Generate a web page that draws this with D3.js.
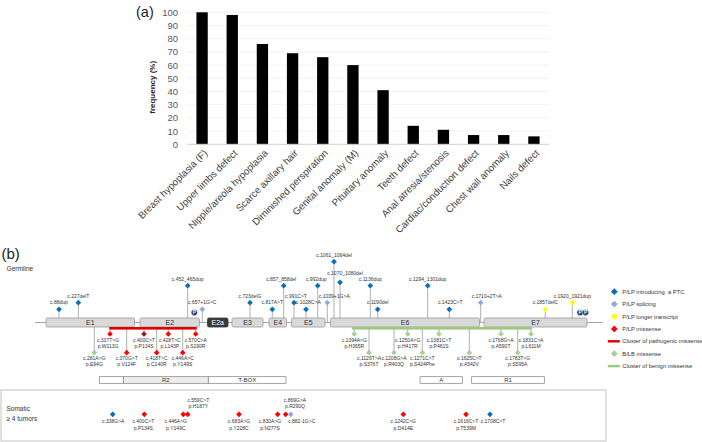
<!DOCTYPE html>
<html><head><meta charset="utf-8">
<script src="https://cdn.jsdelivr.net/npm/d3@7"></script>
<style>
body{margin:0;background:#fff}
svg{display:block}
text{font-family:"Liberation Sans",Arial,sans-serif}
</style>
</head><body>
<svg id="c" width="702" height="442"></svg>
<script>
// ---------- (a) phenotype frequencies ----------
const categories = ["Breast hypoplasia (F)", "Upper limbs defect", "Nipple/areola hypoplasia", "Scarce axillary hair",
  "Diminished perspiration", "Genital anomaly (M)", "Pituitary anomaly", "Teeth defect", "Anal atresia/stenosis",
  "Cardiac/conduction defect", "Chest wall anomaly", "Nails defect"];
const frequency = [100, 98, 76, 69, 66, 60, 41, 14, 11, 7, 7, 6];
const yTicks = [0, 10, 20, 30, 40, 50, 60, 70, 80, 90, 100];

// ---------- (b) TBX3 gene track (track units along the drawn gene) ----------
const exonNames = ["E1", "E2", "E2a", "E3", "E4", "E5", "E6", "E7"];
const exonStart = [11, 105, 172.5, 197, 234, 256.5, 295.5, 449];
const exonEnd   = [99.5, 164.5, 193, 228, 251.5, 290, 444.5, 552];

// germline variants drawn above the gene (height = stem level)
const aboveLabels = ["c.88dup", "c.227delT", "c.452_465dup", "c.657+1G>C", "c.723delG", "c.817A>T", "c.857_858del",
  "c.991C>T", "c.1028C>A", "c.992dup", "c.1039+1G>A", "c.1061_1064del", "c.1070_1080del", "c.1136dup", "c.1190del",
  "c.1294_1301dup", "c.1423C>T", "c.1710+2T>A", "c.1857delC", "c.1920_1921dup"];
const aboveTypes = ["ptc", "ptc", "ptc", "splice", "ptc", "ptc", "ptc", "ptc", "ptc", "ptc", "splice", "ptc", "ptc",
  "ptc", "ptc", "ptc", "ptc", "splice", "longer", "longer"];
const abovePos = [24, 43.3, 152.7, 167.3, 215, 237.3, 248.7, 259, 271, 282.7, 292.3, 299, 305, 335.3, 342.7, 392.7,
  414.3, 445.7, 510.3, 537.3];
const aboveLevel = [8.7, 15.3, 32.3, 8.7, 15.3, 8.7, 32.3, 15.3, 8.7, 32.3, 15.3, 56.3, 35.7, 32.3, 8.7, 32.3, 8.7,
  15.3, 8.7, 15.3];

// germline missense variants drawn below the gene
const belowCdna = ["c.337T>G", "c.400C>T", "c.428T>C", "c.570C>A", "c.281A>G", "c.370G>T", "c.418T>C", "c.446A>C",
  "c.1094A>G", "c.1250A>G", "c.1381C>T", "c.1768G>A", "c.1831C>A", "c.1126T>A", "c.1208G>A", "c.1271C>T",
  "c.1625C>T", "c.1783T>G"];
const belowProtein = ["p.W113G", "p.P134S", "p.L143P", "p.S190R", "p.E94G", "p.V124F", "p.C140R", "p.Y149S",
  "p.H365R", "p.H417R", "p.P461S", "p.A590T", "p.L611M", "p.S376T", "p.R403Q", "p.S424Phe", "p.A542V", "p.S595A"];
const belowTypes = ["missense", "missenseDark", "missense", "missense", "benign", "missense", "missense", "missense",
  "benign", "benign", "benign", "benign", "benign", "benign", "benign", "benign", "benign", "benign"];
const belowPos = [75, 109, 133.3, 160.7, 59.3, 91.7, 121.7, 147.7, 319.3, 372.7, 404, 466, 496, 334, 359, 387.3,
  434.3, 482.7];
const belowLevel = [7, 7, 7, 7, 25.7, 25.7, 25.7, 25.7, 7, 7, 7, 7, 7, 25.7, 25.7, 25.7, 25.7, 25.7];

// "P" markers on the gene
const pMarkerPos = [159.3, 545, 550.5];

// clusters of missense variants
const clusterNames = ["pathogenic", "benign"];
const clusterStart = [74.3, 317];
const clusterEnd = [161.7, 497];

// protein domains
const domainNames = ["", "R2", "T-BOX", "A", "R1"];
const domainStart = [64.3, 88.3, 173.3, 385, 436.7];
const domainEnd = [88.3, 173.3, 251, 427.3, 509.3];

// somatic variants (>= 4 tumors)
const somCdna = ["c.338G>A", "c.400C>T", "c.446A>G", "c.559C>T", "c.683A>G", "c.830A>G", "c.869G>A", "c.882-1G>C",
  "c.1242C>G", "c.1616C>T", "c.1708C>T"];
const somProtein = ["", "p.P134S", "p.Y149C", "p.H187Y", "p.Y228C", "p.N277S", "p.R290Q", "", "p.D414E", "p.T539M", ""];
const somTypes = ["ptc", "missense", "missense", "missense", "missense", "missense", "missense", "splice", "missense",
  "missense", "ptc"];
const somPos = [77.7, 109.3, 148.3, 152.7, 204, 242.7, 250.7, 255.7, 368.3, 431, 455];
const somLabelAbove = [false, false, false, true, false, false, true, false, false, false, false];

// legend
const legendLabels = ["P/LP introducing  a PTC", "P/LP splicing", "P/LP longer transcript", "P/LP missense",
  "Cluster of pathogenic missense", "B/LB missense", "Cluster of benign missense"];
const legendKinds = ["ptc", "splice", "longer", "missense", "redline", "benign", "greenline"];

// ---------- styles ----------
const color = {ptc: "#0070c0", splice: "#8eaadb", longer: "#ffff00", missense: "#ff0000", missenseDark: "#a3151b",
  benign: "#a9d18e", redline: "#e00000", greenline: "#9cc97f"};
const stemColor = "#a6a6a6";
const svg = d3.select("#c");

// ================= (a) =================
const bx = d3.scaleBand().domain(categories).range([187, 549]).paddingInner(0.625).paddingOuter(0.3125);
const by = d3.scaleLinear().domain([0, 100]).range([144.3, 12.3]);
const gA = svg.append("g");

gA.selectAll("line.grid").data(yTicks.filter(d => d > 0)).join("line")
  .attr("x1", 187).attr("x2", 549).attr("y1", d => by(d)).attr("y2", d => by(d))
  .attr("stroke", "#efefef").attr("stroke-width", 0.8);

const yAxis = d3.axisLeft(by).tickValues(yTicks).tickSize(0).tickPadding(9);
const yg = gA.append("g").attr("transform", "translate(187,0)").call(yAxis);
yg.select(".domain").remove();
yg.selectAll("text").attr("font-size", 9.5).attr("fill", "#595959")
  .attr("font-family", '"Liberation Sans",Arial,sans-serif');

gA.selectAll("rect.bar").data(categories).join("rect")
  .attr("x", d => bx(d)).attr("width", bx.bandwidth())
  .attr("y", (d, i) => by(frequency[i])).attr("height", (d, i) => by(0) - by(frequency[i]))
  .attr("fill", "#000");

gA.append("line").attr("x1", 187).attr("x2", 549).attr("y1", by(0)).attr("y2", by(0))
  .attr("stroke", "#d0d0d0").attr("stroke-width", 1);

gA.selectAll("text.xl").data(categories).join("text")
  .attr("transform", d => `translate(${bx(d) + bx.bandwidth() / 2 + 3.5},${by(0) + 7}) rotate(-45)`)
  .attr("text-anchor", "end").attr("dy", "0.35em")
  .attr("font-size", 9.8).attr("fill", "#404040").text(d => d);

gA.append("text").attr("transform", `translate(155,${(by(0) + by(100)) / 2 + 9}) rotate(-90)`)
  .attr("text-anchor", "middle").attr("font-size", 8).attr("font-weight", "bold").attr("fill", "#262626")
  .text("frequency (%)");

svg.append("text").attr("x", 136).attr("y", 17).attr("font-size", 14.5).attr("fill", "#222").text("(a)");

// ================= (b) =================
const tx = d3.scaleLinear().domain([0, 568]).range([35, 603]);
const upY = d3.scaleLinear().domain([0, 60]).range([318, 258]);
const dnY = d3.scaleLinear().domain([0, 30]).range([327, 357]);
const backboneY = 322.5;
const diamond = d3.symbol().type(d3.symbolSquare);

svg.append("text").attr("x", 1.5).attr("y", 259).attr("font-size", 15).attr("fill", "#222").text("(b)");
svg.append("text").attr("x", 6.5).attr("y", 270.5).attr("font-size", 6.6).attr("fill", "#333").text("Germline");

const gB = svg.append("g");

// stems
gB.selectAll("line.su").data(aboveLabels).join("line")
  .attr("x1", (d, i) => tx(abovePos[i])).attr("x2", (d, i) => tx(abovePos[i]))
  .attr("y1", (d, i) => upY(aboveLevel[i])).attr("y2", backboneY)
  .attr("stroke", stemColor).attr("stroke-width", 0.9);
gB.selectAll("line.sd").data(belowCdna).join("line")
  .attr("x1", (d, i) => tx(belowPos[i])).attr("x2", (d, i) => tx(belowPos[i]))
  .attr("y1", backboneY).attr("y2", (d, i) => dnY(belowLevel[i]))
  .attr("stroke", stemColor).attr("stroke-width", 0.9);

// backbone
gB.append("line").attr("x1", tx(0)).attr("x2", tx(568)).attr("y1", backboneY).attr("y2", backboneY)
  .attr("stroke", "#a6a6a6").attr("stroke-width", 1);

// exons
gB.selectAll("rect.ex").data(exonNames).join("rect")
  .attr("x", (d, i) => tx(exonStart[i])).attr("width", (d, i) => tx(exonEnd[i]) - tx(exonStart[i]))
  .attr("y", 318).attr("height", 9).attr("rx", 1.5)
  .attr("fill", d => d === "E2a" ? "#3a3a3a" : "#d9d9d9")
  .attr("stroke", d => d === "E2a" ? "#3a3a3a" : "#9a9a9a").attr("stroke-width", 0.8);
gB.selectAll("text.ex").data(exonNames).join("text")
  .attr("x", (d, i) => (tx(exonStart[i]) + tx(exonEnd[i])) / 2).attr("y", 325.2)
  .attr("text-anchor", "middle").attr("font-size", 7)
  .attr("fill", d => d === "E2a" ? "#fff" : "#333").text(d => d);

// clusters
gB.selectAll("rect.cl").data(clusterNames).join("rect")
  .attr("x", (d, i) => tx(clusterStart[i])).attr("width", (d, i) => tx(clusterEnd[i]) - tx(clusterStart[i]))
  .attr("y", 327).attr("height", 2.6)
  .attr("fill", d => d === "pathogenic" ? color.redline : color.greenline);

// P markers
const pg = gB.selectAll("g.p").data(pMarkerPos).join("g")
  .attr("transform", d => `translate(${tx(d)},312.5)`);
pg.append("circle").attr("r", 3.1).attr("fill", "#203864").attr("stroke", "#fff").attr("stroke-width", 0.4);
pg.append("text").attr("text-anchor", "middle").attr("y", 1.8).attr("font-size", 4.8)
  .attr("font-weight", "bold").attr("fill", "#fff").text("P");

// markers above
const markSize = 16;
gB.selectAll("path.mu").data(aboveLabels).join("path")
  .attr("d", diamond.size(markSize)())
  .attr("transform", (d, i) => `translate(${tx(abovePos[i])},${upY(aboveLevel[i])}) rotate(45)`)
  .attr("fill", (d, i) => color[aboveTypes[i]]);
const aboveNudge = {"c.857_858del": -2.5, "c.991C>T": 2, "c.1028C>A": 2.3, "c.992dup": -1.5, "c.1039+1G>A": 7,
  "c.1070_1080del": 5, "c.1710+2T>A": 6, "c.1423C>T": 1, "c.657+1G>C": 0};
gB.selectAll("text.mu").data(aboveLabels).join("text")
  .attr("x", (d, i) => tx(abovePos[i]) + (aboveNudge[d] || 0))
  .attr("y", (d, i) => upY(aboveLevel[i]) - (d === "c.1070_1080del" ? 7.5 : 5))
  .attr("text-anchor", "middle").attr("font-size", 5).attr("fill", "#333").text(d => d);

// markers below
gB.selectAll("path.md").data(belowCdna).join("path")
  .attr("d", diamond.size(markSize)())
  .attr("transform", (d, i) => `translate(${tx(belowPos[i])},${dnY(belowLevel[i])}) rotate(45)`)
  .attr("fill", (d, i) => color[belowTypes[i]]);
const belowNudge = {"c.428T>C": 1.5, "c.337T>G": -2};
const bl = gB.selectAll("g.bl").data(belowCdna).join("g")
  .attr("transform", (d, i) => `translate(${tx(belowPos[i]) + (belowNudge[d] || 0)},${dnY(belowLevel[i])})`);
bl.append("text").attr("y", 7.8).attr("text-anchor", "middle").attr("font-size", 5).attr("fill", "#333").text(d => d);
bl.append("text").attr("y", 13.8).attr("text-anchor", "middle").attr("font-size", 5).attr("fill", "#333")
  .text((d, i) => belowProtein[i]);

// domains
gB.selectAll("rect.dm").data(domainNames).join("rect")
  .attr("x", (d, i) => tx(domainStart[i])).attr("width", (d, i) => tx(domainEnd[i]) - tx(domainStart[i]))
  .attr("y", 376.7).attr("height", 6.6)
  .attr("fill", d => d === "R2" ? "#ededed" : "#fff").attr("stroke", "#7f7f7f").attr("stroke-width", 0.7);
gB.selectAll("text.dm").data(domainNames).join("text")
  .attr("x", (d, i) => (tx(domainStart[i]) + tx(domainEnd[i])) / 2).attr("y", 382.3)
  .attr("text-anchor", "middle").attr("font-size", 6).attr("fill", "#333").text(d => d);

// legend
const lg = svg.append("g").selectAll("g").data(legendLabels).join("g")
  .attr("transform", (d, i) => `translate(614.3,${291.7 + i * 12.4})`);
lg.each(function (d, i) {
  const k = legendKinds[i];
  const g = d3.select(this);
  if (k === "redline" || k === "greenline") {
    g.append("rect").attr("x", -6.5).attr("y", -1.2).attr("width", 12).attr("height", 2.4).attr("fill", color[k]);
  } else {
    g.append("path").attr("d", d3.symbol().type(d3.symbolSquare).size(23)()).attr("transform", "rotate(45)")
      .attr("fill", color[k]);
  }
});
lg.append("text").attr("x", 8).attr("y", 2).attr("font-size", 5.8).attr("fill", "#333")
  .style("white-space", "pre").text(d => d);

// somatic box
const gS = svg.append("g");
gS.append("rect").attr("x", 1).attr("y", 390).attr("width", 605).attr("height", 51)
  .attr("fill", "none").attr("stroke", "#d4d4d4").attr("stroke-width", 1.4);
gS.append("text").attr("x", 6.5).attr("y", 411.3).attr("font-size", 6.5).attr("fill", "#333").text("Somatic");
gS.append("text").attr("x", 6.5).attr("y", 420.5).attr("font-size", 6.5).attr("fill", "#333").text("\u2265 4 tumors");

const somY = 414.3;
gS.selectAll("path.sm").data(somCdna).join("path")
  .attr("d", diamond.size(markSize)())
  .attr("transform", (d, i) => `translate(${tx(somPos[i])},${somY}) rotate(45)`)
  .attr("fill", (d, i) => color[somTypes[i]]);
const somNudge = {"c.446A>G": -7.5, "c.559C>T": 10.6, "c.830A>G": -7.7, "c.869G>A": 9.3, "c.882-1G>C": 11,
  "c.1708C>T": 3, "c.400C>T": -1, "c.338G>A": 0.5};
const sl = gS.selectAll("g.sl").data(somCdna).join("g")
  .attr("transform", (d, i) => `translate(${tx(somPos[i]) + (somNudge[d] || 0)},${somY})`);
sl.append("text").attr("y", (d, i) => somLabelAbove[i] ? -12.6 : 8.4).attr("text-anchor", "middle")
  .attr("font-size", 5).attr("fill", "#333").text(d => d);
sl.append("text").attr("y", (d, i) => somLabelAbove[i] ? -6.6 : 15.4).attr("text-anchor", "middle")
  .attr("font-size", 5).attr("fill", "#333").text((d, i) => somProtein[i]);
</script>
</body></html>
